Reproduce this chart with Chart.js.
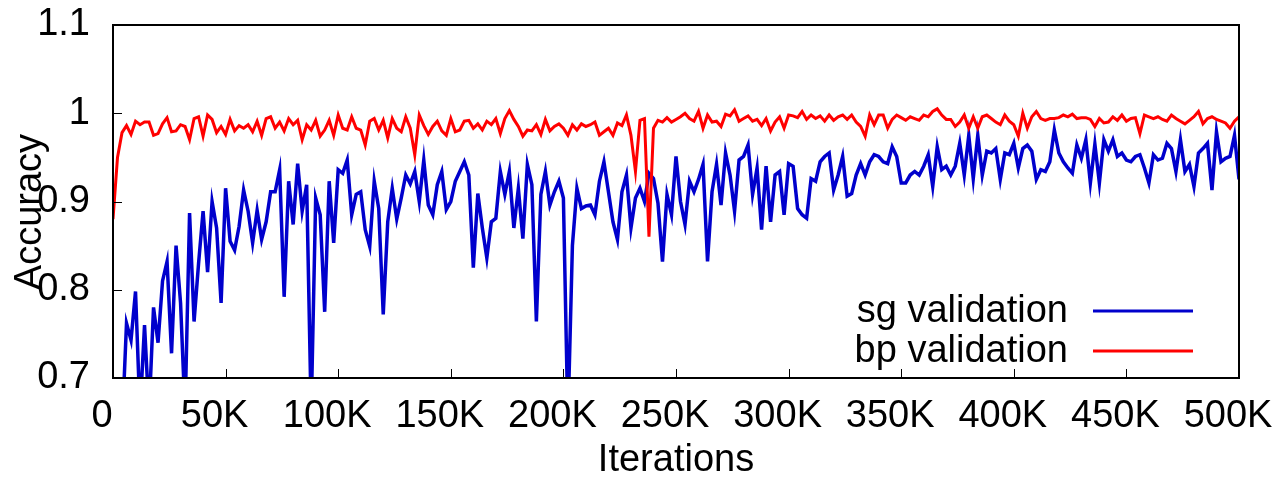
<!DOCTYPE html>
<html>
<head>
<meta charset="utf-8">
<script src="https://cdn.jsdelivr.net/npm/chart.js@4.4.1/dist/chart.umd.min.js"></script>
<style>
  html, body { margin: 0; padding: 0; background: #fff; }
  #wrap { width: 1278px; height: 485px; }
</style>
</head>
<body>
<div id="wrap"><canvas id="accChart" width="1278" height="485"></canvas></div>
<script>
// iterations in thousands
const iterations = [
  0, 2, 4, 6, 8, 10, 12, 14, 16, 18,
  20, 22, 24, 26, 28, 30, 32, 34, 36, 38,
  40, 42, 44, 46, 48, 50, 52, 54, 56, 58,
  60, 62, 64, 66, 68, 70, 72, 74, 76, 78,
  80, 82, 84, 86, 88, 90, 92, 94, 96, 98,
  100, 102, 104, 106, 108, 110, 112, 114, 116, 118,
  120, 122, 124, 126, 128, 130, 132, 134, 136, 138,
  140, 142, 144, 146, 148, 150, 152, 154, 156, 158,
  160, 162, 164, 166, 168, 170, 172, 174, 176, 178,
  180, 182, 184, 186, 188, 190, 192, 194, 196, 198,
  200, 202, 204, 206, 208, 210, 212, 214, 216, 218,
  220, 222, 224, 226, 228, 230, 232, 234, 236, 238,
  240, 242, 244, 246, 248, 250, 252, 254, 256, 258,
  260, 262, 264, 266, 268, 270, 272, 274, 276, 278,
  280, 282, 284, 286, 288, 290, 292, 294, 296, 298,
  300, 302, 304, 306, 308, 310, 312, 314, 316, 318,
  320, 322, 324, 326, 328, 330, 332, 334, 336, 338,
  340, 342, 344, 346, 348, 350, 352, 354, 356, 358,
  360, 362, 364, 366, 368, 370, 372, 374, 376, 378,
  380, 382, 384, 386, 388, 390, 392, 394, 396, 398,
  400, 402, 404, 406, 408, 410, 412, 414, 416, 418,
  420, 422, 424, 426, 428, 430, 432, 434, 436, 438,
  440, 442, 444, 446, 448, 450, 452, 454, 456, 458,
  460, 462, 464, 466, 468, 470, 472, 474, 476, 478,
  480, 482, 484, 486, 488, 490, 492, 494, 496, 498,
  500
];

const sgValidation = [
  null, null, 0.64, 0.762, 0.743, 0.798, 0.66, 0.76, 0.66, 0.78,
  0.74, 0.81, 0.832, 0.728, 0.85, 0.785, 0.66, 0.887, 0.764, 0.83,
  0.889, 0.82, 0.9, 0.87, 0.785, 0.915, 0.855, 0.845, 0.872, 0.913,
  0.889, 0.853, 0.89, 0.857, 0.877, 0.911, 0.911, 0.936, 0.792, 0.923,
  0.874, 0.943, 0.889, 0.919, 0.66, 0.904, 0.885, 0.775, 0.923, 0.853,
  0.936, 0.932, 0.947, 0.885, 0.908, 0.911, 0.868, 0.849, 0.923, 0.892,
  0.772, 0.877, 0.915, 0.88, 0.904, 0.93, 0.92, 0.934, 0.9, 0.947,
  0.896, 0.885, 0.919, 0.934, 0.891, 0.9, 0.923, 0.934, 0.945, 0.93,
  0.825, 0.909, 0.87, 0.836, 0.877, 0.881, 0.934, 0.908, 0.934, 0.87,
  0.915, 0.858, 0.942, 0.919, 0.764, 0.908, 0.934, 0.896, 0.911, 0.923,
  0.904, 0.65, 0.85, 0.915, 0.892, 0.895, 0.896, 0.885, 0.923, 0.945,
  0.911, 0.877, 0.857, 0.911, 0.93, 0.87, 0.904, 0.915, 0.9, 0.932,
  0.926, 0.898, 0.832, 0.908, 0.885, 0.951, 0.9, 0.874, 0.923, 0.911,
  0.925, 0.942, 0.832, 0.911, 0.942, 0.896, 0.955, 0.93, 0.889, 0.947,
  0.951, 0.964, 0.908, 0.938, 0.868, 0.94, 0.877, 0.93, 0.934, 0.885,
  0.943, 0.94, 0.892, 0.885, 0.881, 0.926, 0.923, 0.945, 0.951, 0.955,
  0.913, 0.93, 0.951, 0.906, 0.909, 0.93, 0.943, 0.93, 0.945, 0.953,
  0.951, 0.945, 0.943, 0.962, 0.951, 0.921, 0.921, 0.93, 0.934, 0.93,
  0.94, 0.953, 0.917, 0.962, 0.936, 0.94, 0.93, 0.94, 0.966, 0.93,
  0.975, 0.926, 0.975, 0.93, 0.957, 0.955, 0.96, 0.925, 0.955, 0.953,
  0.966, 0.938, 0.96, 0.964, 0.957, 0.925, 0.936, 0.934, 0.945, 0.981,
  0.955, 0.945, 0.938, 0.932, 0.964, 0.949, 0.97, 0.921, 0.965, 0.921,
  0.97, 0.957, 0.97, 0.951, 0.955, 0.947, 0.945, 0.951, 0.953, 0.938,
  0.921, 0.953, 0.947, 0.949, 0.966, 0.96, 0.934, 0.97, 0.934, 0.942,
  0.917, 0.955, 0.96, 0.966, 0.913, 0.979, 0.945, 0.949, 0.951, 0.975,
  0.925
];

const bpValidation = [
  0.88, 0.95, 0.978, 0.986, 0.976, 0.991, 0.987, 0.99, 0.99, 0.975,
  0.977, 0.988, 0.995, 0.979, 0.98, 0.987, 0.985, 0.97, 0.994, 0.996,
  0.974, 0.998, 0.993, 0.978, 0.985, 0.976, 0.993, 0.98, 0.986, 0.983,
  0.987, 0.979, 0.991, 0.975, 0.994, 0.996, 0.983, 0.99, 0.98, 0.994,
  0.987, 0.992, 0.97, 0.987, 0.981, 0.992, 0.974, 0.981, 0.992, 0.975,
  0.998, 0.983, 0.981, 0.996, 0.983, 0.981, 0.964, 0.991, 0.994, 0.981,
  0.992, 0.972, 0.994, 0.983, 0.979, 0.996, 0.983, 0.953, 0.998, 0.986,
  0.976, 0.985, 0.991, 0.98, 0.975, 0.994, 0.979, 0.981, 0.991, 0.992,
  0.983, 0.988, 0.981, 0.991, 0.987, 0.994, 0.977, 0.994, 1.003, 0.993,
  0.985, 0.974, 0.981, 0.98, 0.987, 0.976, 0.993, 0.98, 0.985, 0.988,
  0.983, 0.975, 0.987, 0.981, 0.988, 0.985, 0.987, 0.99, 0.975, 0.979,
  0.983, 0.975, 0.989, 0.986, 0.998, 0.975, 0.934, 0.992, 0.994, 0.86,
  0.983, 0.992, 0.99, 0.995, 0.99, 0.993, 0.996, 1.0, 0.994, 0.991,
  1.002, 0.983, 0.998, 0.99, 0.991, 0.985, 0.999, 0.997, 1.004, 0.991,
  0.994, 0.997, 0.991, 0.993, 0.986, 0.994, 0.98, 0.99, 0.996, 0.983,
  0.998, 0.997, 0.995, 1.002, 0.993, 0.998, 0.994, 0.997, 0.991, 0.998,
  0.992, 0.996, 0.998, 0.993, 0.998, 0.99, 0.985, 0.974, 0.998, 0.987,
  0.998, 0.998, 0.983, 0.993, 0.998, 0.995, 0.992, 0.996, 0.994, 0.992,
  0.998, 0.996, 1.002, 1.005, 0.998, 0.993, 0.993, 0.985, 0.99, 0.998,
  0.983, 0.996, 0.983, 0.996, 0.998, 0.994, 0.99, 0.987, 0.998, 0.991,
  0.987, 0.974, 1.0, 0.983, 0.996, 1.002, 0.994, 0.992, 0.994, 0.994,
  0.995, 0.998, 0.996, 0.999, 0.994, 0.995, 0.995, 0.993, 0.985, 0.994,
  0.989, 0.99, 0.996, 0.992, 0.998, 0.991, 0.994, 0.995, 0.977, 0.998,
  0.996, 0.994, 0.996, 0.993, 0.991, 0.998, 0.994, 0.991, 0.988, 0.992,
  0.996, 1.002, 0.988, 0.994, 0.996, 0.993, 0.991, 0.989, 0.983, 0.991,
  0.996
];

const xTickLabels = ['0', '50K', '100K', '150K', '200K', '250K', '300K', '350K', '400K', '450K', '500K'];
const yTickLabels = ['0.7', '0.8', '0.9', '1', '1.1'];

const FONT = '"Liberation Sans", Arial, Helvetica, sans-serif';
const FONT_SIZE = 38;

const toPoints = (ys) => iterations.map((k, i) => ({ x: k, y: ys[i] }));

// gnuplot-like frame, inward ticks and legend (text left of a line sample)
const framePlugin = {
    id: 'frame',
    afterDatasetsDraw(chart) {
        const { ctx, chartArea: a, scales: { x, y } } = chart;
        ctx.save();
        ctx.strokeStyle = '#000';
        ctx.lineWidth = 1;
        ctx.beginPath();
        x.ticks.forEach(t => {
            const px = Math.round(x.getPixelForValue(t.value)) + 0.5;
            ctx.moveTo(px, a.bottom);
            ctx.lineTo(px, a.bottom - 9);
        });
        y.ticks.forEach(t => {
            const py = Math.round(y.getPixelForValue(t.value)) + 0.5;
            ctx.moveTo(a.left, py);
            ctx.lineTo(a.left + 9, py);
        });
        ctx.stroke();
        ctx.lineWidth = 2;
        ctx.strokeRect(a.left, a.top, a.right - a.left, a.bottom - a.top);

        // legend
        ctx.font = FONT_SIZE + 'px ' + FONT;
        ctx.textAlign = 'right';
        ctx.textBaseline = 'middle';
        chart.data.datasets.forEach((ds, i) => {
            const rowY = a.bottom - 67 + i * 40;
            ctx.fillStyle = '#000';
            ctx.fillText(ds.label, a.right - 171, rowY + 1);
            ctx.strokeStyle = ds.borderColor;
            ctx.lineWidth = 3;
            ctx.beginPath();
            ctx.moveTo(a.right - 146, rowY);
            ctx.lineTo(a.right - 46, rowY);
            ctx.stroke();
        });
        ctx.restore();
    }
};

Chart.defaults.color = '#000';
Chart.defaults.font.family = FONT;
Chart.defaults.font.size = FONT_SIZE;

const ctx = document.getElementById('accChart').getContext('2d');
const accChart = new Chart(ctx, {
    type: 'line',
    data: {
        datasets: [
            {
                label: 'sg validation',
                data: toPoints(sgValidation),
                borderColor: '#0000cc',
                borderWidth: 3.5,
                pointRadius: 0,
                tension: 0,
                fill: false,
                order: 2,
            },
            {
                label: 'bp validation',
                data: toPoints(bpValidation),
                borderColor: '#ff0000',
                borderWidth: 3,
                pointRadius: 0,
                tension: 0,
                fill: false,
                order: 1,
            }
        ]
    },
    options: {
        responsive: false,
        animation: false,
        layout: { padding: { top: 25, right: 39, left: 0, bottom: 0 } },
        plugins: {
            legend: { display: false },
            tooltip: { enabled: false },
        },
        scales: {
            x: {
                type: 'linear',
                min: 0,
                max: 500,
                grid: { display: false },
                border: { display: false },
                ticks: {
                    stepSize: 50,
                    autoSkip: false,
                    maxRotation: 0,
                    padding: 8,
                    labelOffset: -11,
                    callback: (v, i) => xTickLabels[i],
                },
                title: { display: true, text: 'Iterations', padding: { top: 0, bottom: 2 } },
                afterFit: (s) => { s.height = 107; s.paddingLeft = 0; s.paddingRight = 0; },
            },
            y: {
                min: 0.7,
                max: 1.1,
                grid: { display: false },
                border: { display: false },
                ticks: {
                    stepSize: 0.1,
                    padding: 15,
                    callback: (v, i) => yTickLabels[i],
                },
                // trailing spaces nudge the rotated title down like the original
                title: { display: true, text: 'Accuracy  ', padding: { top: 8, bottom: 0 } },
                afterFit: (s) => { s.width = 113; s.paddingTop = 0; s.paddingBottom = 0; },
            }
        }
    },
    plugins: [framePlugin]
});
</script>
</body>
</html>
